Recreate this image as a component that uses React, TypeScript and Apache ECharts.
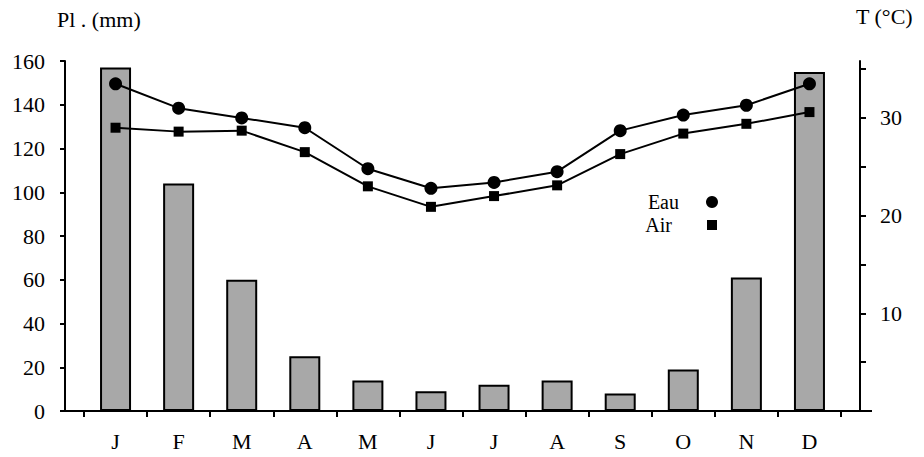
import React, { useEffect, useRef } from "react";
import * as echarts from "echarts";

const months = ["J", "F", "M", "A", "M", "J", "J", "A", "S", "O", "N", "D"];
const rainfall = [157, 104, 60, 25, 14, 9, 12, 14, 8, 19, 61, 155];
const waterTemp = [33.5, 31.0, 30.0, 29.0, 24.8, 22.8, 23.4, 24.5, 28.7, 30.3, 31.3, 33.5];
const airTemp = [29.0, 28.6, 28.7, 26.5, 23.0, 20.9, 22.0, 23.1, 26.3, 28.4, 29.4, 30.6];
const rightTickLabels = [10, 20, 30];

const FONT = "'Liberation Serif', 'Times New Roman', serif";

export default function App() {
  const ref = useRef<HTMLDivElement>(null);

  useEffect(() => {
    if (!ref.current) return;
    const chart = echarts.init(ref.current, null, { renderer: "svg" });
    const axisLine = { show: true, lineStyle: { color: "#000", width: 2 } };
    const titleStyle = { fontFamily: FONT, fontSize: 22, fontWeight: "normal", color: "#000" };
    chart.setOption({
      animation: false,
      backgroundColor: "#fff",
      textStyle: { fontFamily: FONT },
      title: [
        { text: "Pl . (mm)", left: 52, top: 3, textStyle: titleStyle },
        { text: "T (°C)", left: 851, top: 0, textStyle: titleStyle },
      ],
      grid: { left: 84, right: 83, top: 61, bottom: 46 },
      legend: [
        {
          data: [{ name: "Eau", icon: "circle" }],
          orient: "vertical",
          align: "right",
          right: 201,
          top: 187,
          itemWidth: 12,
          itemHeight: 12,
          selectedMode: false,
          textStyle: { fontFamily: FONT, fontSize: 20, color: "#000", padding: [0, 22, 0, 0] },
        },
        {
          data: [{ name: "Air", icon: "rect" }],
          orient: "vertical",
          align: "right",
          right: 202,
          top: 210,
          itemWidth: 10,
          itemHeight: 10,
          selectedMode: false,
          textStyle: { fontFamily: FONT, fontSize: 20, color: "#000", padding: [0, 30, 0, 0] },
        },
      ],
      xAxis: {
        type: "category",
        data: months,
        axisLine,
        axisTick: { show: true, length: 6, lineStyle: { color: "#000", width: 2 } },
        axisLabel: { color: "#000", fontSize: 22, fontFamily: FONT, margin: 19 },
        splitLine: { show: false },
      },
      yAxis: [
        {
          type: "value",
          min: 0,
          max: 160,
          interval: 20,
          offset: 19,
          axisLine,
          axisTick: { show: true, length: 5, lineStyle: { color: "#000", width: 2 } },
          axisLabel: { color: "#000", fontSize: 22, fontFamily: FONT, margin: 20 },
          splitLine: { show: false },
        },
        {
          type: "value",
          position: "right",
          min: 0,
          max: 35.83,
          interval: 5,
          offset: 19,
          axisLine,
          axisTick: { show: true, length: 6, lineStyle: { color: "#000", width: 2 } },
          axisLabel: {
            color: "#000",
            fontSize: 22,
            fontFamily: FONT,
            margin: 20,
            showMaxLabel: false,
            formatter: (v: number) => (rightTickLabels.includes(v) ? String(v) : ""),
          },
          splitLine: { show: false },
        },
      ],
      graphic: [
        {
          type: "line",
          shape: { x1: 63, y1: 411, x2: 85, y2: 411 },
          style: { stroke: "#000", lineWidth: 2 },
        },
        {
          type: "line",
          shape: { x1: 840, y1: 411, x2: 872, y2: 411 },
          style: { stroke: "#000", lineWidth: 2 },
        },
      ],
      series: [
        {
          name: "Pluie",
          type: "bar",
          data: rainfall,
          barWidth: 31,
          yAxisIndex: 0,
          itemStyle: { color: "#a8a8a8", borderColor: "#000", borderWidth: 2 },
        },
        {
          name: "Eau",
          type: "line",
          data: waterTemp,
          yAxisIndex: 1,
          symbol: "circle",
          symbolSize: 13,
          lineStyle: { color: "#000", width: 2 },
          itemStyle: { color: "#000" },
        },
        {
          name: "Air",
          type: "line",
          data: airTemp,
          yAxisIndex: 1,
          symbol: "rect",
          symbolSize: 10,
          lineStyle: { color: "#000", width: 2 },
          itemStyle: { color: "#000" },
        },
      ],
    });
    return () => chart.dispose();
  }, []);

  return (
    <div
      ref={ref}
      style={{ position: "absolute", left: 0, top: 0, width: 924, height: 457 }}
    />
  );
}
